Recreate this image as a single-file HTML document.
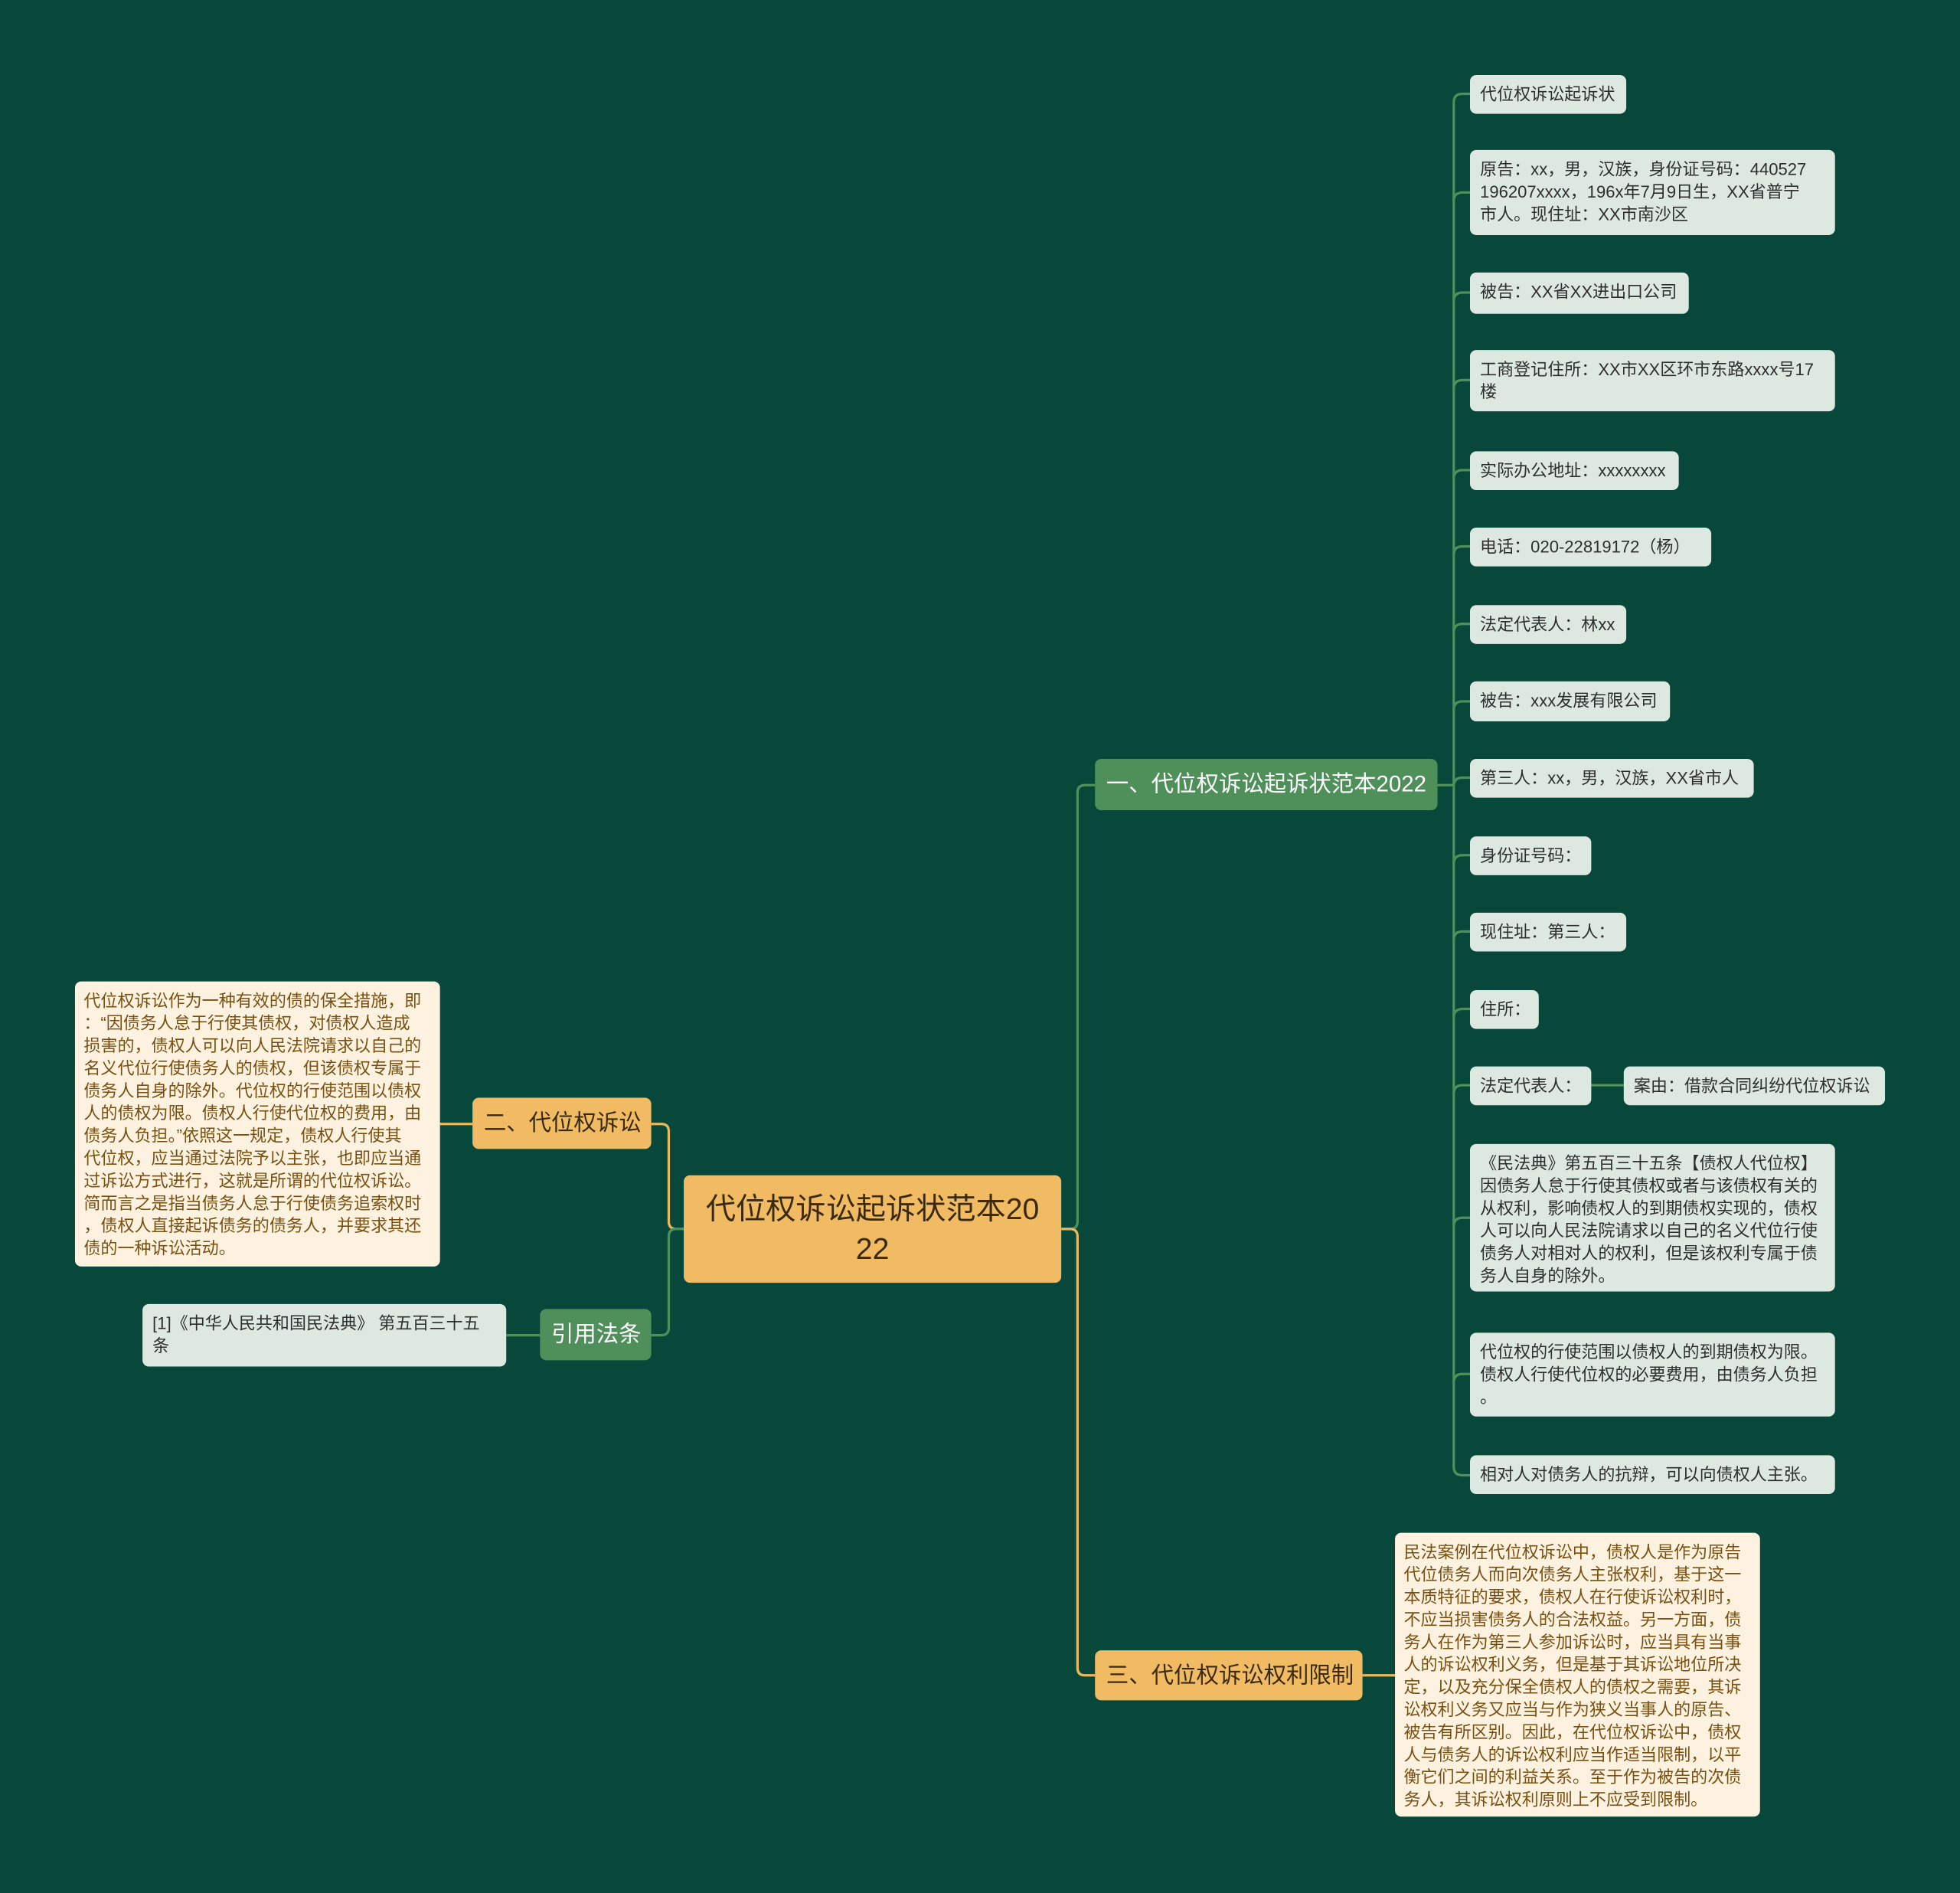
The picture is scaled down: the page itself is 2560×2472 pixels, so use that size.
<!DOCTYPE html>
<html><head><meta charset="utf-8"><style>
html,body{margin:0;padding:0;background:#07483a;}
body{width:2560px;height:2472px;overflow:hidden;}
#w{position:absolute;left:0;top:0;width:1568px;height:1514px;transform:scale(1.632653);transform-origin:0 0;font-family:"Liberation Sans","Noto Sans CJK SC",sans-serif;}
.n{position:absolute;box-sizing:border-box;border-radius:5px;}
.l{background:#dde9e0;color:#2e2e2e;font-size:13.5px;line-height:18px;padding:7px 7px 6px 8px;word-break:break-all;line-break:anywhere;}
.c{background:#fdf1e0;color:#7a5010;font-size:13.5px;line-height:18px;padding:7px 6px 7px 7px;word-break:break-all;line-break:anywhere;}
.o{background:#f0bb62;color:#3a2a10;}
.g{background:#4e8f5a;color:#fff;}
.b{font-size:18px;line-height:41px;padding:0 9px;white-space:nowrap;}
.nw{white-space:nowrap;}
svg{position:absolute;left:0;top:0;}
</style></head><body><div id="w">
<svg width="1568" height="1514" fill="none" stroke-width="2">
<path d="M849 983 H856 Q862 983 862 977 V634 Q862 628 868 628 H876" stroke="#4e8f5a"/>
<path d="M849 983 H856 Q862 983 862 989 V1334 Q862 1340 868 1340 H876" stroke="#e8b85c"/>
<path d="M547 983 H541 Q535 983 535 977 V905 Q535 899 529 899 H521" stroke="#e8b85c"/>
<path d="M547 983 H541 Q535 983 535 989 V1062 Q535 1068 529 1068 H521" stroke="#4e8f5a"/>
<path d="M378 899 H352" stroke="#e8b85c"/>
<path d="M432 1068 H405" stroke="#4e8f5a"/>
<path d="M1090 1340 H1116" stroke="#e8b85c"/>
<g stroke="#4e8f5a">
<path d="M1150 628 H1163"/>
<path d="M1163 82 V1174"/>
<path d="M1163 82 Q1163 75 1170 75 H1176"/>
<path d="M1163 161 Q1163 154 1170 154 H1176"/>
<path d="M1163 241 Q1163 234 1170 234 H1176"/>
<path d="M1163 311 Q1163 304 1170 304 H1176"/>
<path d="M1163 383 Q1163 376 1170 376 H1176"/>
<path d="M1163 444 Q1163 437 1170 437 H1176"/>
<path d="M1163 506 Q1163 499 1170 499 H1176"/>
<path d="M1163 568 Q1163 561 1170 561 H1176"/>
<path d="M1163 629 Q1163 622 1170 622 H1176"/>
<path d="M1163 691 Q1163 684 1170 684 H1176"/>
<path d="M1163 752 Q1163 745 1170 745 H1176"/>
<path d="M1163 814 Q1163 807 1170 807 H1176"/>
<path d="M1163 875 Q1163 868 1170 868 H1176"/>
<path d="M1273 868 H1299"/>
<path d="M1163 981 Q1163 974 1170 974 H1176"/>
<path d="M1163 1106 Q1163 1099 1170 1099 H1176"/>
<path d="M1163 1173 Q1163 1180 1170 1180 H1176"/>
</g>
</svg>
<div class="n o" style="left:547px;top:940px;width:302px;height:86px;font-size:24px;line-height:32px;text-align:center;padding-top:12px;">代位权诉讼起诉状范本20<br>22</div>
<div class="n g b" style="left:876px;top:607px;width:274px;height:41px;">一、代位权诉讼起诉状范本2022</div>
<div class="n o b" style="left:876px;top:1320px;width:214px;height:40px;">三、代位权诉讼权利限制</div>
<div class="n o b" style="left:378px;top:878px;width:143px;height:41px;">二、代位权诉讼</div>
<div class="n g b" style="left:432px;top:1047px;width:89px;height:41px;">引用法条</div>
<div class="n c nw" style="left:60px;top:785px;width:292px;height:228px;overflow:hidden;">代位权诉讼作为一种有效的债的保全措施，即<br>：“因债务人怠于行使其债权，对债权人造成<br>损害的，债权人可以向人民法院请求以自己的<br>名义代位行使债务人的债权，但该债权专属于<br>债务人自身的除外。代位权的行使范围以债权<br>人的债权为限。债权人行使代位权的费用，由<br>债务人负担。”依照这一规定，债权人行使其<br>代位权，应当通过法院予以主张，也即应当通<br>过诉讼方式进行，这就是所谓的代位权诉讼。<br>简而言之是指当债务人怠于行使债务追索权时<br>，债权人直接起诉债务的债务人，并要求其还<br>债的一种诉讼活动。</div>
<div class="n l" style="left:114px;top:1043px;width:291px;height:50px;padding-right:18px;">[1]《中华人民共和国民法典》 第五百三十五条</div>
<div class="n l" style="left:1176px;top:60px;width:125px;height:31px;">代位权诉讼起诉状</div>
<div class="n l" style="left:1176px;top:120px;width:292px;height:68px;">原告：xx，男，汉族，身份证号码：440527<br>196207xxxx，196x年7月9日生，XX省普宁<br>市人。现住址：XX市南沙区</div>
<div class="n l" style="left:1176px;top:218px;width:175px;height:33px;">被告：XX省XX进出口公司</div>
<div class="n l" style="left:1176px;top:280px;width:292px;height:49px;">工商登记住所：XX市XX区环市东路xxxx号17楼</div>
<div class="n l nw" style="left:1176px;top:361px;width:167px;height:31px;">实际办公地址：xxxxxxxx</div>
<div class="n l nw" style="left:1176px;top:422px;width:193px;height:31px;">电话：020-22819172（杨）</div>
<div class="n l nw" style="left:1176px;top:484px;width:125px;height:31px;">法定代表人：林xx</div>
<div class="n l nw" style="left:1176px;top:545px;width:160px;height:32px;">被告：xxx发展有限公司</div>
<div class="n l nw" style="left:1176px;top:607px;width:227px;height:31px;">第三人：xx，男，汉族，XX省市人</div>
<div class="n l nw" style="left:1176px;top:669px;width:97px;height:31px;">身份证号码：</div>
<div class="n l nw" style="left:1176px;top:730px;width:125px;height:31px;">现住址：第三人：</div>
<div class="n l nw" style="left:1176px;top:792px;width:55px;height:31px;">住所：</div>
<div class="n l nw" style="left:1176px;top:853px;width:97px;height:31px;">法定代表人：</div>
<div class="n l nw" style="left:1299px;top:853px;width:209px;height:31px;">案由：借款合同纠纷代位权诉讼</div>
<div class="n l" style="left:1176px;top:915px;width:292px;height:118px;">《民法典》第五百三十五条【债权人代位权】因债务人怠于行使其债权或者与该债权有关的从权利，影响债权人的到期债权实现的，债权人可以向人民法院请求以自己的名义代位行使债务人对相对人的权利，但是该权利专属于债务人自身的除外。</div>
<div class="n l" style="left:1176px;top:1066px;width:292px;height:67px;">代位权的行使范围以债权人的到期债权为限。债权人行使代位权的必要费用，由债务人负担。</div>
<div class="n l" style="left:1176px;top:1164px;width:292px;height:31px;">相对人对债务人的抗辩，可以向债权人主张。</div>
<div class="n c" style="left:1116px;top:1226px;width:292px;height:227px;">民法案例在代位权诉讼中，债权人是作为原告代位债务人而向次债务人主张权利，基于这一本质特征的要求，债权人在行使诉讼权利时，不应当损害债务人的合法权益。另一方面，债务人在作为第三人参加诉讼时，应当具有当事人的诉讼权利义务，但是基于其诉讼地位所决定，以及充分保全债权人的债权之需要，其诉讼权利义务又应当与作为狭义当事人的原告、被告有所区别。因此，在代位权诉讼中，债权人与债务人的诉讼权利应当作适当限制，以平衡它们之间的利益关系。至于作为被告的次债务人，其诉讼权利原则上不应受到限制。</div>
</div></body></html>
